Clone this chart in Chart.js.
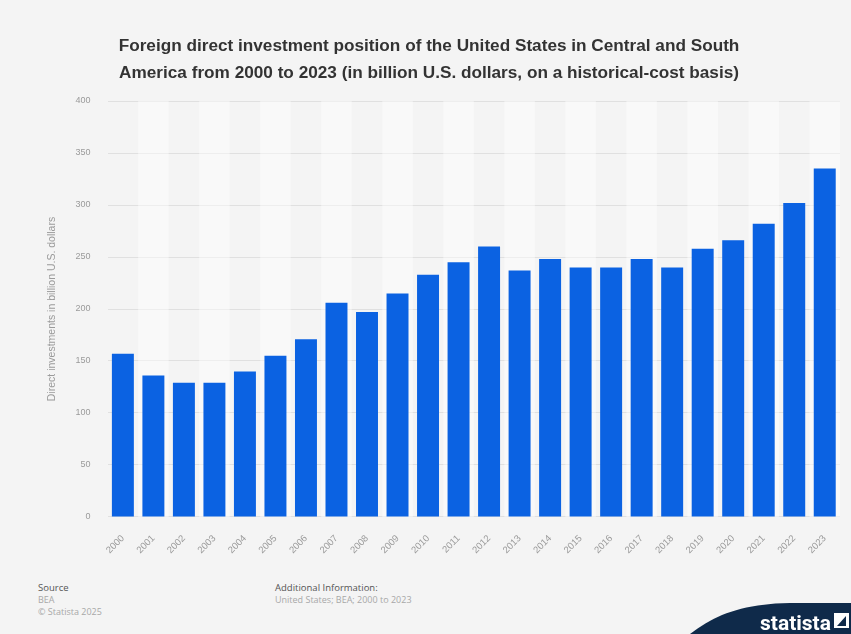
<!DOCTYPE html>
<html>
<head>
<meta charset="utf-8">
<script src="https://cdn.jsdelivr.net/npm/chart.js@4"></script>
<style>
  html, body { margin: 0; padding: 0; background: #f4f4f4; }
  body { width: 851px; height: 634px; position: relative; overflow: hidden; font-family: "Open Sans", Roboto, sans-serif; }
  #wrap { position: absolute; left: 0; top: 0; width: 851px; height: 564px; }
  .foot { position: absolute; font-size: 9px; line-height: 12px; color: #a8a8a8; }
  .foot b { font-weight: normal; color: #555; font-size: 9.5px; }
  #logo { position: absolute; left: 0; top: 0; width: 851px; height: 634px; pointer-events: none; }
</style>
</head>
<body>
<div id="wrap"><canvas id="fdiChart"></canvas></div>

<div class="foot" style="left:38px; top:582px;"><b>Source</b><br>BEA<br>© Statista 2025</div>
<div class="foot" style="left:275px; top:582px;"><b>Additional Information:</b><br>United States; BEA; 2000 to 2023</div>

<svg id="logo" viewBox="0 0 851 634">
  <path d="M690 634 C 715 615, 740 604, 790 603 L 851 603 L 851 634 Z" fill="#0f2a4a"/>
  <text x="760" y="630" font-family="Roboto, sans-serif" font-weight="bold" font-size="21" fill="#ffffff">statista</text>
  <rect x="834" y="613" width="15" height="15" fill="#ffffff"/>
  <path d="M837 626 L846 616 L846 626 Z" fill="#0f2a4a"/>
</svg>

<script>
// データ
const years = ["2000", "2001", "2002", "2003", "2004", "2005", "2006", "2007", "2008", "2009", "2010", "2011",
               "2012", "2013", "2014", "2015", "2016", "2017", "2018", "2019", "2020", "2021", "2022", "2023"];
const investment = [157, 136, 129, 129, 140, 155, 171, 206, 197, 215, 233, 245,
                    260, 237, 248, 240, 240, 248, 240, 258, 266, 282, 302, 335];
const yTicks = [0, 50, 100, 150, 200, 250, 300, 350, 400];

// 背景の縞模様（カテゴリごと）
const stripePlugin = {
    id: 'stripes',
    beforeDatasetsDraw(chart) {
        const { ctx, chartArea, scales } = chart;
        const x = scales.x;
        const half = (x.getPixelForValue(1) - x.getPixelForValue(0)) / 2;
        ctx.save();
        ctx.fillStyle = 'rgba(255,255,255,0.45)';
        years.forEach((y, i) => {
            if (i % 2 === 1) {
                const cx = x.getPixelForValue(i);
                ctx.fillRect(cx - half, chartArea.top, half * 2, chartArea.bottom - chartArea.top);
            }
        });
        ctx.restore();
    }
};

const ctx = document.getElementById('fdiChart').getContext('2d');
const chart = new Chart(ctx, {
    type: 'bar',
    data: {
        labels: years,
        datasets: [{
            label: 'FDI position',
            data: investment,
            backgroundColor: '#0b62e2',
            barPercentage: 0.72,
            categoryPercentage: 1.0
        }]
    },
    options: {
        responsive: true,
        maintainAspectRatio: false,
        animation: false,
        layout: { padding: { left: 18, right: 11, top: 0, bottom: 0 } },
        plugins: {
            legend: { display: false },
            tooltip: { enabled: false },
            title: {
                display: true,
                text: ['Foreign direct investment position of the United States in Central and South',
                       'America from 2000 to 2023 (in billion U.S. dollars, on a historical-cost basis)'],
                color: '#333',
                font: { family: '"Liberation Sans", Arial, sans-serif', size: 17.2, weight: 'bold', lineHeight: 1.57 },
                padding: { top: 33, bottom: 14 }
            }
        },
        scales: {
            x: {
                grid: { display: false },
                border: { display: false },
                ticks: {
                    color: '#9a9a9a',
                    font: { size: 9.5 },
                    minRotation: 45,
                    maxRotation: 45,
                    padding: 8
                }
            },
            y: {
                min: 0,
                max: 400,
                afterBuildTicks(axis) {
                    axis.ticks = yTicks.map(v => ({ value: v }));
                },
                grid: { color: '#e0e0e0', lineWidth: 1, drawTicks: false },
                border: { display: false },
                ticks: { color: '#9a9a9a', font: { size: 9 }, padding: 17 },
                title: {
                    display: true,
                    text: 'Direct investments in billion U.S. dollars',
                    color: '#9a9a9a',
                    font: { size: 10.5 },
                    padding: { top: 28, bottom: 0 }
                }
            }
        }
    },
    plugins: [stripePlugin]
});
</script>
</body>
</html>
